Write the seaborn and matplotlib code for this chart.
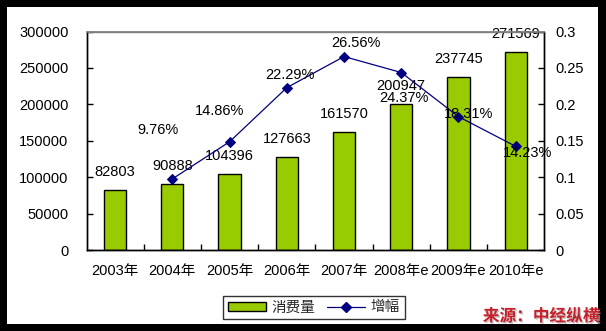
import matplotlib
matplotlib.use("Agg")
import matplotlib.pyplot as plt
import matplotlib.patheffects as pe
from matplotlib.patches import Rectangle
from matplotlib.lines import Line2D
from matplotlib.patches import Patch
import seaborn as sns
import pandas as pd

# Consumption volume per year and year-on-year growth
years = ["2003年", "2004年", "2005年", "2006年", "2007年", "2008年e", "2009年e", "2010年e"]
consumption = [82803, 90888, 104396, 127663, 161570, 200947, 237745, 271569]
growth_years = ["2004年", "2005年", "2006年", "2007年", "2008年e", "2009年e", "2010年e"]
growth = [0.0976, 0.1486, 0.2229, 0.2656, 0.2437, 0.1831, 0.1423]
left_ticks = [0, 50000, 100000, 150000, 200000, 250000, 300000]
right_ticks = [0, 0.05, 0.1, 0.15, 0.2, 0.25, 0.3]
right_tick_labels = ["0", "0.05", "0.1", "0.15", "0.2", "0.25", "0.3"]
legend_labels = ["消费量", "增幅"]
source_text = "来源：中经纵横"

# label placement for the growth-rate annotations (pixels relative to marker)
growth_label_offsets = [(-14, 49), (-10, 31), (3, 13), (12, 14), (3, -25), (10, 3), (12, -7)]

sns.set_theme(style="white")
plt.rcParams["font.family"] = ["Liberation Sans", "Noto Sans CJK SC", "DejaVu Sans"]
plt.rcParams["axes.unicode_minus"] = False

BAR_GREEN = "#99CC00"
NAVY = "#000080"
FS = 10.5

fig = plt.figure(figsize=(6.06, 3.31), dpi=100, facecolor="black")
# white inner panel inside the black frame
fig.add_artist(Rectangle((7 / 606, 7 / 331), 591 / 606, 317 / 331,
                         transform=fig.transFigure, facecolor="white",
                         edgecolor="none", zorder=0))

ax = fig.add_axes([86.5 / 606, 1 - 250 / 331, (544.3 - 86.5) / 606, (250 - 31.5) / 331])
ax.set_facecolor("white")

df = pd.DataFrame({"year": years, "consumption": consumption})
sns.barplot(data=df, x="year", y="consumption", ax=ax, color=BAR_GREEN,
            width=0.39, edgecolor="black", linewidth=1, saturation=1)

ax.set_ylim(0, 300000)
ax.set_xlim(-0.5, len(years) - 0.5)
ax.set_yticks(left_ticks)
ax.set_yticklabels([str(t) for t in left_ticks])
ax.set_xlabel("")
ax.set_ylabel("")
ax.set_xticks(range(len(years)))
ax.set_xticklabels(years)
ax.set_xticks([i + 0.5 for i in range(len(years) - 1)], minor=True)
ax.tick_params(axis="x", which="major", length=0, pad=10, labelsize=FS, colors="black")
ax.tick_params(axis="x", which="minor", direction="in", length=4, width=1, color="black", bottom=True)
ax.tick_params(axis="y", direction="in", length=4, width=1, pad=13, labelsize=FS,
               colors="black", left=True)

for side in ["left", "bottom", "right"]:
    ax.spines[side].set_color("black")
    ax.spines[side].set_linewidth(1)
ax.spines["top"].set_color("#808080")
ax.spines["top"].set_linewidth(1)

# value labels above bars
for i, v in enumerate(consumption):
    ax.annotate(str(v), (i, v), xytext=(0, 18), textcoords="offset pixels",
                ha="center", va="center", fontsize=FS, color="black")

ax2 = ax.twinx()
gx = [years.index(y) for y in growth_years]
sns.lineplot(x=gx, y=growth, ax=ax2, color=NAVY, linewidth=0.9, marker="D",
             markersize=5, markeredgecolor=NAVY, markerfacecolor=NAVY)
ax2.set_ylim(0, 0.3)
ax2.set_yticks(right_ticks)
ax2.set_yticklabels(right_tick_labels)
ax2.tick_params(axis="y", direction="in", length=4, width=1, pad=8, labelsize=FS,
                colors="black", right=True)
for side in ["left", "bottom", "right"]:
    ax2.spines[side].set_color("black")
    ax2.spines[side].set_linewidth(1)
ax2.spines["top"].set_color("#808080")
ax2.set_ylabel("")

for x, v, (dx, dy) in zip(gx, growth, growth_label_offsets):
    ax2.annotate(f"{v * 100:.2f}%", (x, v), xytext=(dx, dy), textcoords="offset pixels",
                 ha="center", va="center", fontsize=FS, color="black")

handles = [
    Patch(facecolor=BAR_GREEN, edgecolor="black", linewidth=1),
    Line2D([0], [0], color=NAVY, linewidth=0.9, marker="D", markersize=5),
]
leg = fig.legend(handles, legend_labels, loc="center", bbox_to_anchor=(314 / 606, 1 - 307.5 / 331),
                 ncol=2, frameon=True, fancybox=False, fontsize=FS, handlelength=2.6,
                 handleheight=0.6, columnspacing=0.8, handletextpad=0.4,
                 borderpad=0.3, borderaxespad=0)
leg.get_frame().set_edgecolor("black")
leg.get_frame().set_linewidth(1)

fig.text(541 / 606, 1 - 316 / 331, source_text, ha="center", va="center",
         fontsize=12, fontweight="bold", color="#C8202A",
         path_effects=[pe.SimplePatchShadow(offset=(1, -1), shadow_rgbFace="#BBBBBB", alpha=0.8),
                       pe.Normal()])

fig.savefig("out.png", dpi=100, facecolor=fig.get_facecolor())
